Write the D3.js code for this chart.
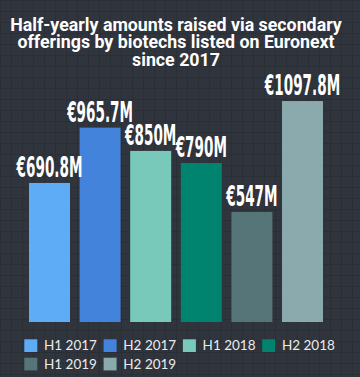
<!DOCTYPE html>
<html><head><meta charset="utf-8">
<script src="https://cdn.jsdelivr.net/npm/d3@7"></script>
<style>
html,body{margin:0;padding:0;background:#2f333b;}
svg{display:block;}
</style></head>
<body>
<svg id="chart" width="360" height="377"></svg>
<script>
const categories = ["H1 2017","H2 2017","H1 2018","H2 2018","H1 2019","H2 2019"];
const values = [690.8, 965.7, 850, 790, 547, 1097.8];
const valueLabels = ["€690.8M","€965.7M","€850M","€790M","€547M","€1097.8M"];
const colors = ["#5eabf6","#4483db","#79c9bb","#00836f","#567578","#8aaaae"];
const titleLines = ["Half-yearly amounts raised via secondary","offerings by biotechs listed on Euronext","since 2017"];

const W = 360, H = 377;
const svg = d3.select("#chart");
const defs = svg.append("defs");
const pat = defs.append("pattern").attr("id","tiles").attr("width",11).attr("height",11).attr("patternUnits","userSpaceOnUse");
pat.append("rect").attr("width",11).attr("height",11).attr("fill","#2a2e35");
pat.append("rect").attr("x",1).attr("y",1).attr("width",10).attr("height",10).attr("fill","#30343c");
svg.append("rect").attr("width",W).attr("height",H).attr("fill","url(#tiles)");

// title
const title = svg.append("text").attr("text-anchor","middle")
  .attr("font-family","Roboto, 'Noto Sans', sans-serif").attr("font-weight","700")
  .attr("font-size",17.8).attr("fill","#ffffff");
titleLines.forEach((t,i)=>{
  title.append("tspan").attr("x",176).attr("y",30.7 + i*17.6).text(t);
});

const x = d3.scaleBand().domain(categories).range([24.2, 327.8]).paddingInner(0.19).paddingOuter(0.095);
const y = d3.scaleLinear().domain([0,1100]).range([322, 100.6]);

svg.append("g").selectAll("rect").data(categories).join("rect")
  .attr("x", d=>x(d)).attr("width", x.bandwidth())
  .attr("y", (d,i)=>y(values[i])).attr("height",(d,i)=>y(0)-y(values[i]))
  .attr("fill",(d,i)=>colors[i]);

svg.append("g").selectAll("text").data(categories).join("text")
  .attr("text-anchor","middle")
  .attr("font-family","'Liberation Sans Narrow','DejaVu Sans Condensed','Roboto',sans-serif")
  .attr("font-weight","700").attr("font-size",29).attr("fill","#ffffff")
  .attr("transform",(d,i)=>`translate(${x(d)+x.bandwidth()/2},${y(values[i])-6}) scale(0.52,1)`)
  .text((d,i)=>valueLabels[i]);

// legend
const legend = svg.append("g");
const colW = 79.3, rowH = 18.4;
categories.forEach((c,i)=>{
  const col = i%4, row = Math.floor(i/4);
  const g = legend.append("g").attr("transform",`translate(${24.3+col*colW},${339.3+row*rowH})`);
  g.append("rect").attr("width",13).attr("height",12.7).attr("fill",colors[i]);
  g.append("text").attr("x",19.7).attr("y",11).attr("font-family","Lato, sans-serif")
    .attr("font-size",13.5).attr("fill","#ececec").text(c);
});
</script>
</body></html>
